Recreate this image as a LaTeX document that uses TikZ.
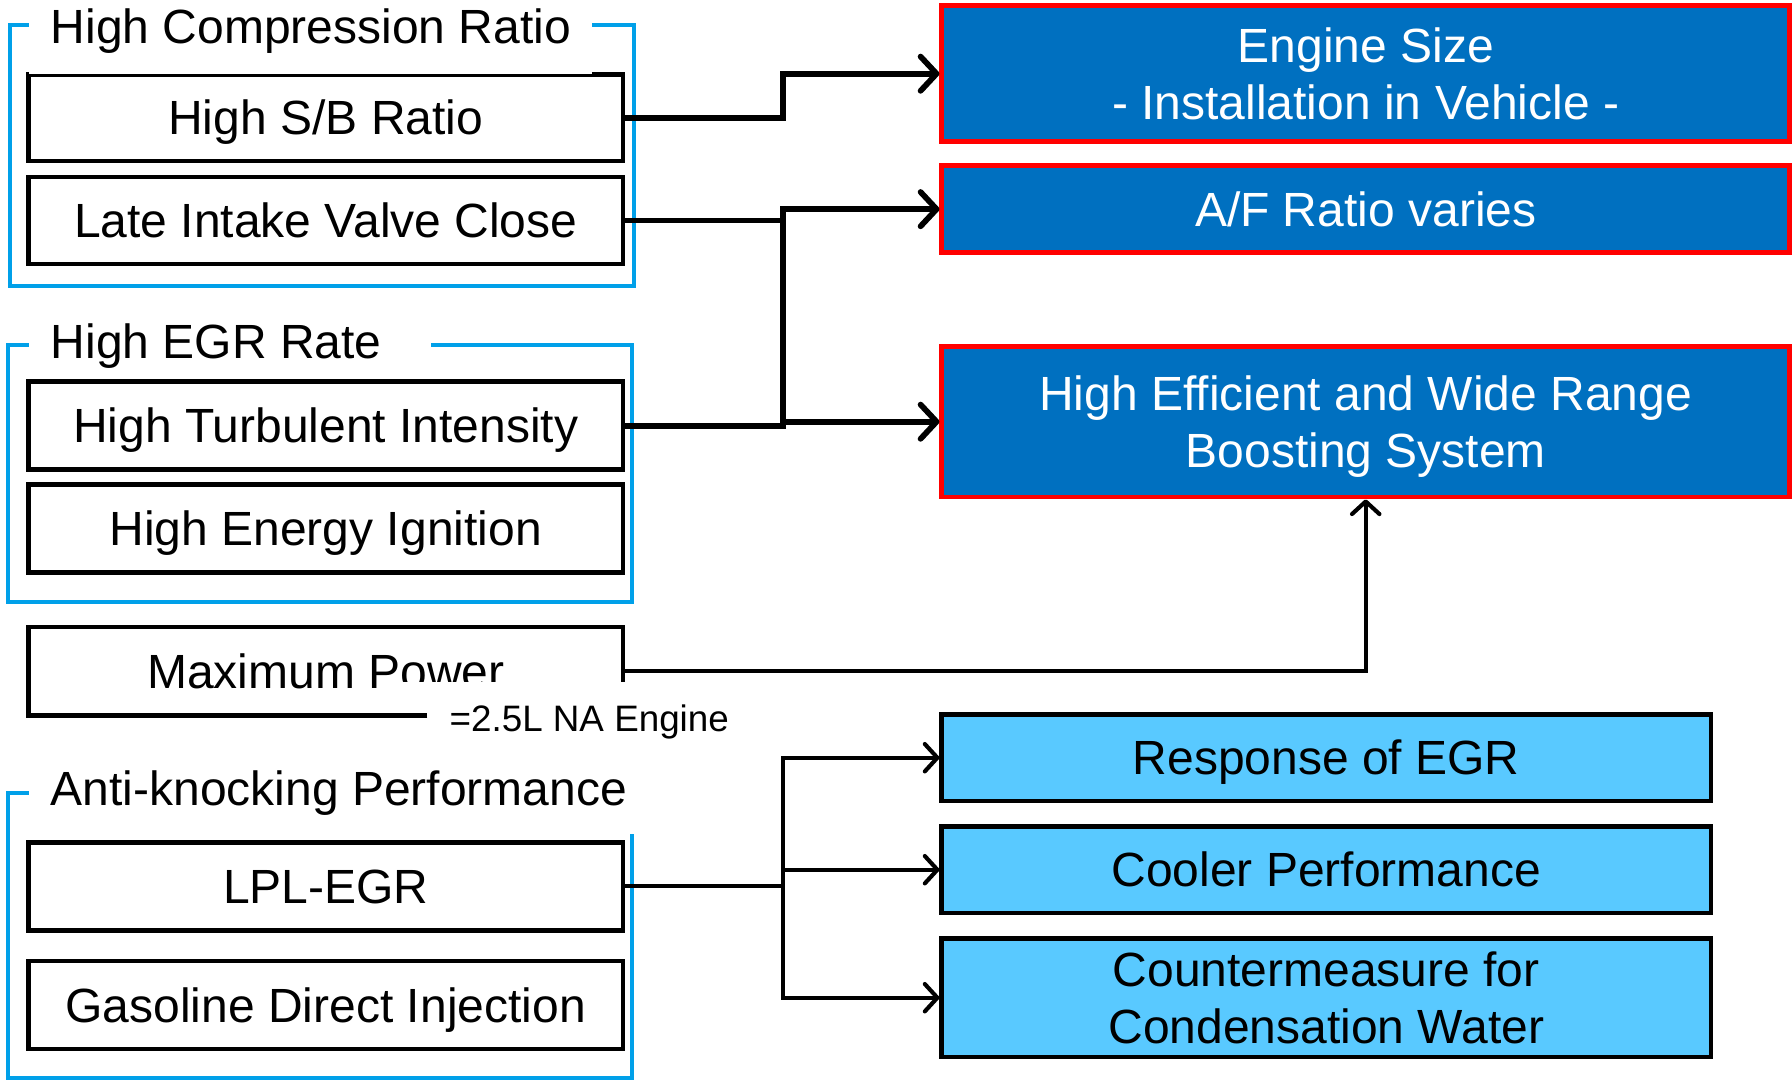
\documentclass[tikz,border=0pt]{standalone}
\usepackage{fontspec}
\setmainfont{Liberation Sans}
\usetikzlibrary{arrows.meta,calc}
\definecolor{grpblue}{RGB}{0,160,233}
\definecolor{darkblue}{RGB}{0,112,192}
\definecolor{boxred}{RGB}{255,0,0}
\definecolor{lightblue}{RGB}{89,201,255}
\begin{document}
\begin{tikzpicture}[x=0.5pt,y=-0.5pt,
  mainfont/.style={font=\fontsize{21}{25}\selectfont},
  oneline/.style={text height=15pt, text depth=0pt},
  twoline/.style={text height=40pt, text depth=0pt},
  wbox/.style={draw=black, line width=2pt, fill=white, minimum width=260pt, minimum height=38pt, inner sep=0pt, mainfont, align=center, oneline},
  rbox/.style={draw=boxred, fill=darkblue, line width=2pt, text=white, minimum width=371pt, inner sep=0pt, mainfont, align=center},
  lbox/.style={draw=black, fill=lightblue, line width=2pt, minimum width=336.5pt, inner sep=0pt, mainfont, align=center},
  grp/.style={draw=grpblue, line width=1.6pt},
  grptitle/.style={anchor=base west, inner sep=0pt, mainfont},
  thickline/.style={line width=2.5pt, line cap=rect},
  thickconn/.style={line width=2.5pt, -{Straight Barb[length=7pt,width=15pt,line cap=round,line join=round]}},
  thinline/.style={line width=1.8pt, line cap=rect},
  thinconn/.style={line width=1.8pt, -{Straight Barb[length=5.5pt,width=12pt,line cap=round,line join=round]}},
  ]
\useasboundingbox (0,0) rectangle (1568,946);

% group brackets
\draw[grp] (25,22) -- (9,22) -- (9,250) -- (555,250) -- (555,22) -- (518,22);
\draw[grp] (25,302) -- (7,302) -- (7,527) -- (553,527) -- (553,302) -- (377,302);
\draw[grp] (25,694) -- (7,694) -- (7,943) -- (553,943) -- (553,730);

% left boxes
\node[wbox] (hsb) at (285,103) {High S/B Ratio};
\fill[white] (25,42) rectangle (518,64.6);
\node[grptitle] (t1) at (44,38) {High Compression Ratio};
\node[wbox] (livc) at (285,193) {Late Intake Valve Close};
\node[grptitle] (t2) at (44,314) {High EGR Rate};
\node[wbox, minimum height=38.5pt] (hti) at (285,372.5) {High Turbulent Intensity};
\node[wbox, minimum height=38.5pt] (hei) at (285,462.5) {High Energy Ignition};

\node[wbox, draw=none, minimum height=38.5pt] (mp) at (285,587) {Maximum Power};
\fill[white] (350,597) rectangle (640,646);
\draw[line width=2pt] ($(mp.south west)+(351,-1.5)$) -- ($(mp.south west)+(2,-1.5)$) -- ($(mp.north west)+(2,2)$) -- ($(mp.north east)+(-2,2)$) -- ($(mp.north east)+(-2,50)$);
\node[anchor=base west, inner sep=0pt, font=\fontsize{16.1}{20}\selectfont] (na) at (393,640) {=2.5L NA Engine};

\node[grptitle] (t3) at (44,705) {Anti-knocking Performance};
\node[wbox, minimum height=38.5pt] (lpl) at (285,775.5) {LPL-EGR};
\node[wbox, minimum height=38.5pt] (gdi) at (285,879.5) {Gasoline Direct Injection};

% right boxes
\node[rbox, twoline, minimum height=59.5pt] (es) at (1195,64.5) {Engine Size\\- Installation in Vehicle -};
\node[rbox, oneline, minimum height=38pt] (af) at (1195,183) {A/F Ratio varies};
\node[rbox, twoline, minimum height=66pt] (hewr) at (1195,369) {High Efficient and Wide Range\\Boosting System};

\node[lbox, oneline, minimum height=38pt] (regr) at (1160.5,663) {Response of EGR};
\node[lbox, oneline, minimum height=38pt] (cp) at (1160.5,761) {Cooler Performance};
\node[lbox, twoline, minimum height=52pt] (ccw) at (1160.5,873) {Countermeasure for\\Condensation Water};

% connectors
\coordinate (jx) at (685,0);
\draw[thickconn] (hsb.east) -- (hsb.east -| jx) |- (es.west);
\draw[thickline] (livc.east -| jx) -- (hti.east -| jx);
\draw[thickconn] (livc.east) -- (livc.east -| jx) |- (af.west);
\draw[thickconn] (hti.east) -- (hti.east -| jx) |- (hewr.west);
\draw[thinconn] (mp.east) -| (hewr.south);

\draw[thinline] (lpl.east) -- (lpl.east -| jx);
\draw[thinline] (regr.west -| jx) -- (ccw.west -| jx);
\draw[thinconn] (regr.west -| jx) -- (regr.west);
\draw[thinconn] (cp.west -| jx) -- (cp.west);
\draw[thinconn] (ccw.west -| jx) -- (ccw.west);
\end{tikzpicture}
\end{document}
